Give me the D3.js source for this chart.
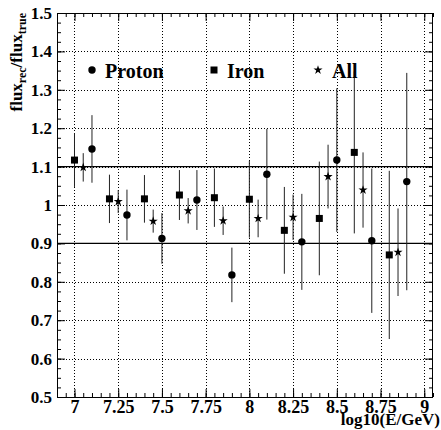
<!DOCTYPE html>
<html>
<head>
<meta charset="utf-8">
<script src="https://cdn.jsdelivr.net/npm/d3@7"></script>
<style>
  body { margin: 0; background: #fff; }
  svg { display: block; }
  text { font-family: "Liberation Serif", "Times New Roman", serif; font-weight: bold; }
</style>
</head>
<body>
<svg id="chart" width="441" height="430"></svg>
<script>
// energy bins (log10 E/GeV), each species drawn with a small offset
const ironX   = [7.0, 7.2, 7.4, 7.6, 7.8, 8.0, 8.2, 8.4, 8.6, 8.8];
const allX    = [7.05, 7.25, 7.45, 7.65, 7.85, 8.05, 8.25, 8.45, 8.65, 8.85];
const protonX = [7.1, 7.3, 7.5, 7.7, 7.9, 8.1, 8.3, 8.5, 8.7, 8.9];

const ironY   = [1.117, 1.016, 1.016, 1.026, 1.019, 1.015, 0.934, 0.965, 1.137, 0.870];
const ironErr = [0.070, 0.063, 0.062, 0.065, 0.076, 0.100, 0.113, 0.148, 0.211, 0.219];

const allY    = [1.098, 1.009, 0.958, 0.985, 0.959, 0.965, 0.968, 1.074, 1.039, 0.877];
const allErr  = [0.037, 0.030, 0.030, 0.033, 0.037, 0.049, 0.059, 0.083, 0.098, 0.114];

const protonY   = [1.146, 0.974, 0.913, 1.013, 0.818, 1.080, 0.904, 1.117, 0.907, 1.061];
const protonErr = [0.088, 0.066, 0.066, 0.078, 0.071, 0.118, 0.125, 0.187, 0.188, 0.283];

const xTicks = [7, 7.25, 7.5, 7.75, 8, 8.25, 8.5, 8.75, 9];
const xTickLabels = ["7", "7.25", "7.5", "7.75", "8", "8.25", "8.5", "8.75", "9"];
const yTicks = [0.5, 0.6, 0.7, 0.8, 0.9, 1.0, 1.1, 1.2, 1.3, 1.4, 1.5];
const yTickLabels = ["0.5", "0.6", "0.7", "0.8", "0.9", "1", "1.1", "1.2", "1.3", "1.4", "1.5"];
const refLines = [0.9, 1.1];

const svg = d3.select("#chart");
const mLeft = 57, mRight = 433, mTop = 13, mBottom = 397;

const x = d3.scaleLinear().domain([6.9, 9.05]).range([mLeft, mRight]);
const y = d3.scaleLinear().domain([0.5, 1.5]).range([mBottom, mTop]);

const xMinor = d3.range(6.9, 9.051, 0.05).map(d => +d.toFixed(3));
const yMinor = d3.range(0.5, 1.5001, 0.025).map(d => +d.toFixed(3));

// grid (dotted)
const grid = svg.append("g").attr("stroke", "#000").attr("stroke-width", 1)
  .attr("stroke-dasharray", "1,2");
grid.selectAll(".gx").data(xTicks).join("line")
  .attr("x1", d => Math.round(x(d)) + 0.5).attr("x2", d => Math.round(x(d)) + 0.5)
  .attr("y1", mTop).attr("y2", mBottom);
grid.selectAll(".gy").data(yTicks.slice(1, -1)).join("line")
  .attr("x1", mLeft).attr("x2", mRight)
  .attr("y1", d => Math.round(y(d)) + 0.5).attr("y2", d => Math.round(y(d)) + 0.5);

// reference lines
svg.append("g").selectAll("line").data(refLines).join("line")
  .attr("x1", mLeft).attr("x2", mRight)
  .attr("y1", d => y(d)).attr("y2", d => y(d))
  .attr("stroke", "#000").attr("stroke-width", 1.2);

// axes
function fix(g) {
  g.select(".domain").remove();
  g.attr("font-family", null).attr("font-size", 17);
  g.selectAll("line").attr("stroke", "#000");
}
svg.append("g").attr("transform", `translate(0,${mBottom})`)
  .call(d3.axisBottom(x).tickValues(xMinor).tickSize(-4).tickFormat("")).call(fix);
svg.append("g").attr("transform", `translate(0,${mBottom})`)
  .call(d3.axisBottom(x).tickValues(xTicks).tickSize(-8).tickPadding(3)
    .tickFormat((d, i) => xTickLabels[i])).call(fix)
  .attr("font-size", 18);
svg.append("g").attr("transform", `translate(0,${mTop})`)
  .call(d3.axisTop(x).tickValues(xMinor).tickSize(-4).tickFormat("")).call(fix);
svg.append("g").attr("transform", `translate(0,${mTop})`)
  .call(d3.axisTop(x).tickValues(xTicks).tickSize(-8).tickFormat("")).call(fix);

svg.append("g").attr("transform", `translate(${mLeft},0)`)
  .call(d3.axisLeft(y).tickValues(yMinor).tickSize(-4).tickFormat("")).call(fix);
svg.append("g").attr("transform", `translate(${mLeft},0)`)
  .call(d3.axisLeft(y).tickValues(yTicks).tickSize(-8).tickPadding(5)
    .tickFormat((d, i) => yTickLabels[i])).call(fix);
svg.append("g").attr("transform", `translate(${mRight},0)`)
  .call(d3.axisRight(y).tickValues(yMinor).tickSize(-4).tickFormat("")).call(fix);
svg.append("g").attr("transform", `translate(${mRight},0)`)
  .call(d3.axisRight(y).tickValues(yTicks).tickSize(-8).tickFormat("")).call(fix);

// frame
svg.append("rect").attr("x", mLeft + 0.5).attr("y", mTop + 0.5)
  .attr("width", mRight - mLeft - 1).attr("height", mBottom - mTop)
  .attr("fill", "none").attr("stroke", "#000").attr("stroke-width", 1);

// data
const star = d3.symbol().type(d3.symbolStar).size(26);

function errBars(xs, ys, es) {
  svg.append("g").selectAll("line").data(xs).join("line")
    .attr("x1", d => x(d)).attr("x2", d => x(d))
    .attr("y1", (d, i) => y(ys[i] - es[i])).attr("y2", (d, i) => y(ys[i] + es[i]))
    .attr("stroke", "#222").attr("stroke-width", 1);
}
errBars(ironX, ironY, ironErr);
errBars(allX, allY, allErr);
errBars(protonX, protonY, protonErr);

svg.append("g").selectAll("rect").data(ironX).join("rect")
  .attr("x", d => x(d) - 3.5).attr("y", (d, i) => y(ironY[i]) - 3.5)
  .attr("width", 7).attr("height", 7).attr("fill", "#000");
svg.append("g").selectAll("circle").data(protonX).join("circle")
  .attr("cx", d => x(d)).attr("cy", (d, i) => y(protonY[i]))
  .attr("r", 3.7).attr("fill", "#000");
svg.append("g").selectAll("path").data(allX).join("path")
  .attr("transform", (d, i) => `translate(${x(d)},${y(allY[i])})`)
  .attr("d", star).attr("fill", "#000");

// legend
const leg = svg.append("g");
leg.append("circle").attr("cx", 92).attr("cy", 70).attr("r", 3.7).attr("fill", "#000");
leg.append("text").attr("x", 105).attr("y", 78).attr("font-size", 20).text("Proton");
leg.append("rect").attr("x", 210.5).attr("y", 66.5).attr("width", 7).attr("height", 7).attr("fill", "#000");
leg.append("text").attr("x", 227).attr("y", 78).attr("font-size", 20).text("Iron");
leg.append("path").attr("transform", "translate(318,70)").attr("d", star).attr("fill", "#000");
leg.append("text").attr("x", 332).attr("y", 78).attr("font-size", 20).text("All");

// axis titles
svg.append("text").attr("x", 440).attr("y", 425).attr("text-anchor", "end")
  .attr("font-size", 17).text("log10(E/GeV)");

const yt = svg.append("text").attr("transform", "translate(22,13) rotate(-90)")
  .attr("text-anchor", "end").attr("font-size", 17);
yt.append("tspan").text("flux");
yt.append("tspan").attr("font-size", 12).attr("dy", 4).text("rec");
yt.append("tspan").attr("dy", -4).text("/flux");
yt.append("tspan").attr("font-size", 12).attr("dy", 4).text("true");
</script>
</body>
</html>
